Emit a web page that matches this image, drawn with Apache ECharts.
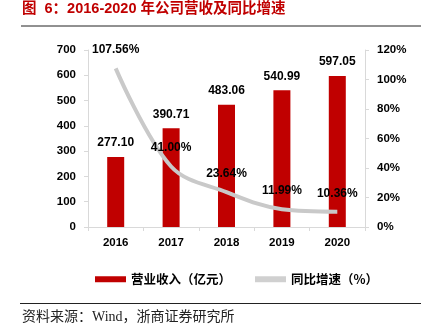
<!DOCTYPE html>
<html><head><meta charset="utf-8">
<script src="https://cdn.jsdelivr.net/npm/echarts@6/dist/echarts.min.js"></script>
<style>html,body{margin:0;padding:0;background:#fff}#c{width:425px;height:336px}</style>
</head><body><div id="c"></div>
<script>
const years = ['2016','2017','2018','2019','2020'];
const revenue = [277.10, 390.71, 483.06, 540.99, 597.05];
const growth = [107.56, 41.00, 23.64, 11.99, 10.36];
const leftTicks = {min:0, max:700, interval:100};
const rightTicks = {min:0, max:120, interval:20};
const titleText = '图  6：2016-2020 年公司营收及同比增速';
const sourceText = '资料来源：Wind，浙商证券研究所';
const revName = '营业收入（亿元）';
const growthName = '同比增速（%）';

const FONT = '"Liberation Sans", Arial, "Noto Sans CJK SC", sans-serif';
const chart = echarts.init(document.getElementById('c'), null, {renderer:'canvas'});
const axisLine = {show:true, lineStyle:{color:'#d9d9d9', width:1}};
chart.setOption({
  animation:false,
  textStyle:{fontFamily:FONT},
  grid:{left:88, right:60, top:50, bottom:109},
  graphic:[
    {type:'text', left:22, top:2, style:{text:titleText, fill:'#c00000', font:'bold 14.5px "Liberation Sans", "Noto Sans CJK SC", sans-serif'}},
    {type:'line', shape:{x1:21, y1:26, x2:421, y2:26}, style:{stroke:'#222', lineWidth:1}},
    {type:'line', shape:{x1:20, y1:303.5, x2:421, y2:303.5}, style:{stroke:'#222', lineWidth:1}},
    {type:'text', left:22, top:310, style:{text:sourceText, fill:'#222', font:'14px "Liberation Serif", "Noto Sans CJK SC", serif'}}
  ],
  legend:{
    top:268, left:90, itemWidth:31, itemHeight:6, itemGap:24,
    textStyle:{fontSize:12.5, fontWeight:'bold', color:'#000', fontFamily:'"Noto Sans CJK SC", sans-serif'},
    data:[{name:revName, icon:'rect'},{name:growthName, icon:'rect', itemStyle:{color:'#d0d0d0'}}]
  },
  xAxis:{
    type:'category', data:years,
    axisLine:axisLine,
    axisTick:{show:true, length:4, lineStyle:{color:'#d9d9d9'}},
    axisLabel:{fontSize:11.5, fontWeight:'bold', color:'#000', margin:10}
  },
  yAxis:[
    {type:'value', min:leftTicks.min, max:leftTicks.max, interval:leftTicks.interval, position:'left',
     axisLine:axisLine, axisTick:{show:true, length:4, lineStyle:{color:'#d9d9d9'}}, splitLine:{show:false},
     axisLabel:{fontSize:11.5, fontWeight:'bold', color:'#000', margin:12}},
    {type:'value', min:rightTicks.min, max:rightTicks.max, interval:rightTicks.interval, position:'right',
     axisLine:axisLine, axisTick:{show:true, length:4, lineStyle:{color:'#d9d9d9'}}, splitLine:{show:false},
     axisLabel:{fontSize:11.5, fontWeight:'bold', color:'#000', margin:12, formatter:'{value}%'}}
  ],
  series:[
    {name:revName, type:'bar', data:revenue, barWidth:17, itemStyle:{color:'#c00000'},
     label:{show:true, position:'top', distance:8, fontSize:12, fontWeight:'bold', color:'#000', formatter:p=>p.value.toFixed(2)}},
    {name:growthName, type:'line', yAxisIndex:1, data:growth, smooth:0.35, symbol:'circle', symbolSize:1, showSymbol:true, z:5,
     lineStyle:{color:'#c9c9c9', width:4}, itemStyle:{color:'rgba(0,0,0,0)'},
     label:{show:true, position:'top', distance:12, fontSize:12, fontWeight:'bold', color:'#000', formatter:p=>p.value.toFixed(2)+'%'}}
  ]
});
</script></body></html>
